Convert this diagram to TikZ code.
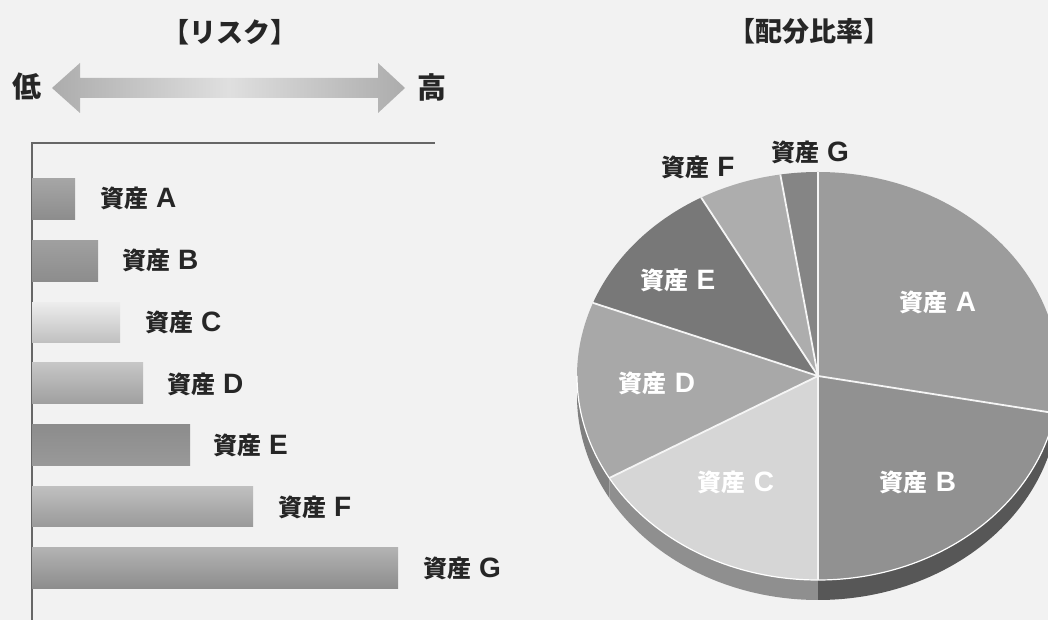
\documentclass[tikz,border=0pt]{standalone}
\usepackage{fontspec}
\setmainfont{Noto Sans CJK JP}
\newfontfamily\latf{Liberation Sans}
\definecolor{bg}{HTML}{F2F2F2}
\definecolor{ink}{HTML}{262626}
\definecolor{axisc}{HTML}{666666}
\newcommand\cx{818}
\newcommand\cy{244}
\newcommand\rx{241}
\newcommand\ry{204}
\newcommand\pieslice[3]{\fill[#3] (\cx,\cy) -- ({\cx+\rx*cos(#1)},{\cy+\ry*sin(#1)}) arc[start angle=#1,end angle=#2,x radius=\rx pt,y radius=\ry pt] -- cycle;}
\newcommand\pieside[3]{\fill[#3] ({\cx+\rx*cos(#1)},{\cy+\ry*sin(#1)}) arc[start angle=#1,end angle=#2,x radius=\rx pt,y radius=\ry pt] -- ++(0,-20) arc[start angle=#2,end angle=#1,x radius=\rx pt,y radius=\ry pt] -- cycle;}
\newcommand\piesep[1]{\draw[sepline] (pc) -- ({\cx+\rx*cos(#1)},{\cy+\ry*sin(#1)});}
\newcommand\asset[1]{資産\hspace{8pt}{\latf\fontsize{28}{28}\selectfont\bfseries #1}}
\begin{document}
\begin{tikzpicture}[x=1pt,y=1pt,
  titlefont/.style={font=\fontsize{27}{27}\selectfont\bfseries, text=ink, inner sep=0pt},
  endfont/.style={font=\fontsize{29}{29}\selectfont\bfseries, text=ink, inner sep=0pt},
  barlbl/.style={font=\fontsize{24}{24}\selectfont\bfseries, text=ink, inner sep=0pt, anchor=west},
  pielbl/.style={font=\fontsize{24}{24}\selectfont\bfseries, text=white, inner sep=0pt},
  pieout/.style={font=\fontsize{24}{24}\selectfont\bfseries, text=ink, inner sep=0pt},
  axisline/.style={draw=axisc, line width=2pt},
  sepline/.style={draw=white!92!gray, line width=1.8pt}
]
\useasboundingbox (0,0) rectangle (1048,620);
\clip (0,0) rectangle (1048,620);
\fill[bg] (0,0) rectangle (1048,620);

% titles
\node[titlefont] (t1) at (230,588) {【リスク】};
\node[titlefont] (t2) at (809,589) {【配分比率】};

% risk arrow
\node[endfont] (low) at (27,533) {低};
\node[endfont] (high) at (432,533) {高};
\shade[left color=gray!65, right color=gray!65, middle color=gray!25]
  (52,532) -- (80,557) -- (80,542) -- (378,542) -- (378,557) -- (405,532)
  -- (378,507) -- (378,522) -- (80,522) -- (80,507) -- cycle;

% axes
\coordinate (ax0) at (32,0);
\coordinate (ax1) at (32,477);
\coordinate (ax2) at (435,477);
\draw[axisline] (ax0) -- (ax1) -- (ax2);

% bars
\shade[top color=gray!70!white, bottom color=gray!100!black!90] (32,400) rectangle (75,441);
\shade[top color=gray!75, bottom color=gray!100!black!90] (32,338) rectangle (98,379);
\shade[top color=gray!15, bottom color=gray!50] (32,277) rectangle (120,317);
\shade[top color=gray!45, bottom color=gray!75] (32,216) rectangle (143,257);
\shade[top color=gray!90, bottom color=gray!100!black!80] (32,154) rectangle (190,195);
\shade[top color=gray!50, bottom color=gray!80] (32,93) rectangle (253,133);
\shade[top color=gray!60, bottom color=gray!90] (32,31) rectangle (398,72);

\node[barlbl] (la) at (100,422) {\asset{A}};
\node[barlbl] (lb) at (122,360) {\asset{B}};
\node[barlbl] (lc) at (145,298) {\asset{C}};
\node[barlbl] (ld) at (167,236) {\asset{D}};
\node[barlbl] (le) at (213,175) {\asset{E}};
\node[barlbl] (lf) at (278,113) {\asset{F}};
\node[barlbl] (lg) at (423,52) {\asset{G}};

% pie
\coordinate (pc) at (\cx,\cy);
\pieside{180}{210}{fill=black!50}
\pieside{210}{270}{fill=black!44}
\pieside{270}{349.5}{fill=black!66}
\pieside{349.5}{360}{fill=black!64}
\pieslice{-10.5}{90}{fill=black!39}
\pieslice{-90}{-10.5}{fill=black!43}
\pieslice{210}{270}{fill=black!16}
\pieslice{159}{210}{fill=black!34}
\pieslice{119}{159}{fill=black!53}
\pieslice{99}{119}{fill=black!32}
\pieslice{90}{99}{fill=black!48}
\draw[white, line width=1.2pt] ({\cx-\rx},\cy) arc[start angle=180,end angle=360,x radius=\rx pt,y radius=\ry pt];
\piesep{90}
\piesep{99}
\piesep{119}
\piesep{159}
\piesep{210}
\piesep{270}
\piesep{-10.5}

\node[pielbl] (pa) at (938,318) {\asset{A}};
\node[pielbl] (pb) at (918,138) {\asset{B}};
\node[pielbl] (pcl) at (736,138) {\asset{C}};
\node[pielbl] (pd) at (657,237) {\asset{D}};
\node[pielbl] (pe) at (678,340) {\asset{E}};
\node[pieout] (pf) at (698,453) {\asset{F}};
\node[pieout] (pg) at (810,468) {\asset{G}};
\end{tikzpicture}
\end{document}
